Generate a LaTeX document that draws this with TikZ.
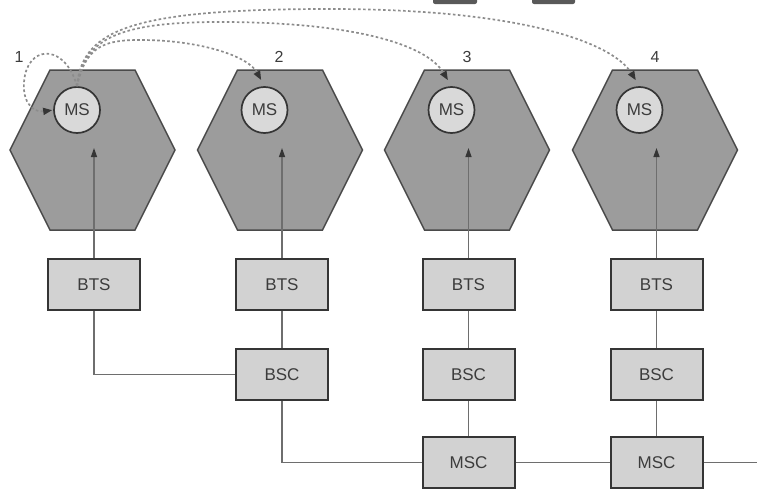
\documentclass[tikz,border=0pt]{standalone}
\usepackage{fontspec}
\setmainfont{Liberation Sans}
\usetikzlibrary{arrows.meta}
\definecolor{hexfill}{HTML}{9C9C9C}
\definecolor{hexedge}{HTML}{4A4A4A}
\definecolor{msfill}{HTML}{D9D9D9}
\definecolor{boxfill}{HTML}{D2D2D2}
\definecolor{boxedge}{HTML}{353535}
\definecolor{wire}{HTML}{6E6E6E}
\definecolor{dashc}{HTML}{8C8C8C}
\definecolor{txt}{HTML}{3C3C3C}
\tikzset{
  hexcell/.style={fill=hexfill, draw=hexedge, line width=1.5pt, line join=miter},
  msnode/.style={circle, fill=msfill, draw=boxedge, line width=1.7pt, minimum size=46pt, inner sep=0pt,
    text=txt, font=\fontsize{17}{19}\selectfont},
  unitbox/.style={rectangle, fill=boxfill, draw=boxedge, line width=2pt, minimum width=92pt, minimum height=51pt,
    inner sep=0pt, text=txt, font=\fontsize{17}{19}\selectfont},
  wireline/.style={draw=wire, line width=1.3pt},
  uplink/.style={draw=wire, line width=1.3pt, -{Triangle[length=9pt,width=6pt,color=boxedge]}},
  hop/.style={draw=dashc, line width=1.7pt, dash pattern=on 2.6pt off 2.4pt,
    -{Triangle[length=9pt,width=7pt,color=boxedge,fill=boxedge]}, shorten >=7pt},
  numlabel/.style={text=txt, font=\fontsize{16}{18}\selectfont, inner sep=0pt}
}
\begin{document}
\begin{tikzpicture}[x=1pt,y=-1pt]
\useasboundingbox (0,0) rectangle (757,490);
% cropped marks at top edge
\begin{scope}
\clip (0,0) rectangle (757,490);
\fill[gray!70!black, rounded corners=2pt] (433,-8) rectangle (477,4);
\fill[gray!70!black, rounded corners=2pt] (532,-8) rectangle (575,4);
\end{scope}
% hexagon cells
\foreach \cx/\i in {92.5/1,280/2,467/3,655/4}{
  \path[hexcell] (\cx-42.5,70) -- (\cx+42.5,70) -- (\cx+82.5,150) -- (\cx+42.5,230)
     -- (\cx-42.5,230) -- (\cx-82.5,150) -- cycle;
  \node[msnode] (ms\i) at (\cx-15.5,110) {MS};
}
% numbers
\node[numlabel] (n1) at (19,57) {1};
\node[numlabel] (n2) at (279,57) {2};
\node[numlabel] (n3) at (467,57) {3};
\node[numlabel] (n4) at (655,57) {4};
% boxes
\node[unitbox] (bts1) at (94,284.5) {BTS};
\node[unitbox] (bts2) at (282,284.5) {BTS};
\node[unitbox] (bts3) at (468.5,284.5) {BTS};
\node[unitbox] (bts4) at (656.5,284.5) {BTS};
\node[unitbox] (bsc2) at (282,374.5) {BSC};
\node[unitbox] (bsc3) at (468.5,374.5) {BSC};
\node[unitbox] (bsc4) at (656.5,374.5) {BSC};
\node[unitbox] (msc3) at (468.5,462.5) {MSC};
\node[unitbox] (msc4) at (656.5,462.5) {MSC};
% uplink arrows into cells
\coordinate (t1) at (94,148);
\coordinate (t2) at (282,148);
\coordinate (t3) at (468.5,148);
\coordinate (t4) at (656.5,148);
\foreach \i in {1,2,3,4}{ \draw[uplink] (bts\i.north) -- (t\i); }
% wiring
\draw[wireline] (bts1.south) |- (bsc2.west);
\draw[wireline] (bts2) -- (bsc2);
\draw[wireline] (bsc2.south) |- (msc3.west);
\draw[wireline] (bts3) -- (bsc3) -- (msc3);
\draw[wireline] (bts4) -- (bsc4) -- (msc4);
\draw[wireline] (msc3) -- (msc4);
\coordinate (edge) at (757,462.5);
\draw[wireline] (msc4.east) -- (edge);
% handover paths
\draw[hop, shorten >=1pt] (ms1.north) .. controls (66,46) and (32,44) .. (25,75)
   .. controls (20,100) and (32,113) .. (ms1.west);
\draw[hop] (ms1.north) .. controls (86,46) and (104,40) .. (140,40)
   .. controls (200,40) and (248,56) .. (ms2.north);
\draw[hop] (ms1.north) .. controls (84,38) and (120,22) .. (220,22)
   .. controls (345,22) and (425,42) .. (ms3.north);
\draw[hop] (ms1.north) .. controls (82,30) and (130,9) .. (330,9)
   .. controls (520,9) and (612,42) .. (ms4.north);
\end{tikzpicture}
\end{document}
